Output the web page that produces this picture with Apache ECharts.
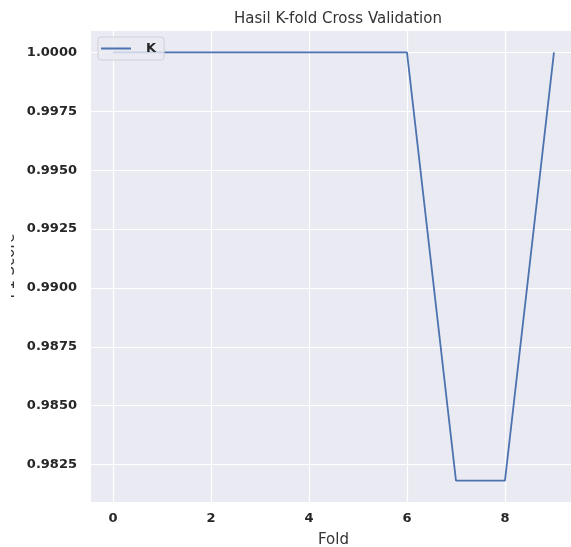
<!DOCTYPE html>
<html>
<head>
<meta charset="utf-8">
<script src="https://cdn.jsdelivr.net/npm/echarts@6/dist/echarts.min.js"></script>
<style>html,body{margin:0;padding:0;background:#fff;}#c{width:571px;height:547px;}</style>
</head>
<body>
<div id="c"></div>
<script>
const folds = [0, 1, 2, 3, 4, 5, 6, 7, 8, 9];
const f1Scores = [1.0, 1.0, 1.0, 1.0, 1.0, 1.0, 1.0, 0.98182, 0.98182, 1.0];
const xTicks = [0, 2, 4, 6, 8];
const yTicks = [0.9825, 0.985, 0.9875, 0.99, 0.9925, 0.995, 0.9975, 1.0];
const seriesName = 'K';
const titleText = 'Hasil K-fold Cross Validation';
const yAxisTitle = 'F1 Score';

const chart = echarts.init(document.getElementById('c'), null, {renderer: 'canvas'});
const font = 'DejaVu Sans';
chart.setOption({
  animation: false,
  backgroundColor: '#ffffff',
  title: {
    text: titleText, left: 333, top: 7, textAlign: 'center',
    textStyle: {fontFamily: font, fontSize: 15, fontWeight: 'normal', color: '#333333'}
  },
  legend: {
    data: [seriesName], left: 98, top: 37, orient: 'vertical',
    itemWidth: 30, itemHeight: 2, itemGap: 0,
    padding: [5, 8, 5, 3],
    backgroundColor: 'rgba(234,234,242,0.8)', borderColor: '#d0d0d8', borderWidth: 1, borderRadius: 3,
    icon: 'rect',
    textStyle: {fontFamily: font, fontSize: 13, fontWeight: 'bold', color: '#262626', padding: [0, 0, 0, 10]}
  },
  grid: {left: 91, right: -5, top: 31, bottom: 45, outerBoundsMode: 'none', containLabel: false,
    show: true, backgroundColor: '#EAEAF2', borderWidth: 0},
  xAxis: {
    type: 'value', min: -0.45, max: 9.45,
    name: 'Fold', nameLocation: 'middle', nameGap: 31,
    nameTextStyle: {fontFamily: font, fontSize: 15, color: '#333'},
    axisLine: {show: false}, axisTick: {show: false, customValues: xTicks},
    axisLabel: {customValues: xTicks, fontFamily: font, fontSize: 13, fontWeight: 'bold', color: '#262626', margin: 10},
    splitLine: {show: true, lineStyle: {color: '#ffffff', width: 1.2}}
  },
  yAxis: {
    type: 'value', min: 0.98091, max: 1.00091,
    axisLine: {show: false}, axisTick: {show: false, customValues: yTicks},
    axisLabel: {customValues: yTicks, fontFamily: font, fontSize: 13, fontWeight: 'bold', color: '#262626', margin: 14,
      formatter: v => v.toFixed(4)},
    splitLine: {show: true, lineStyle: {color: '#ffffff', width: 1.2}}
  },
  graphic: [
    {type: 'text', x: 10, y: 266, rotation: Math.PI / 2, z: 90,
      style: {text: yAxisTitle, font: '15px "DejaVu Sans"', fill: '#333', align: 'center', verticalAlign: 'middle'}},
    {type: 'rect', left: 0, top: 150, shape: {width: 11, height: 250}, style: {fill: '#ffffff'}, z: 100}
  ],
  series: [{
    name: seriesName, type: 'line', data: folds.map((f, i) => [f, f1Scores[i]]),
    showSymbol: false, symbol: 'none',
    lineStyle: {color: '#4C72B0', width: 1.8}, itemStyle: {color: '#4C72B0'}
  }]
});
</script>
</body>
</html>
